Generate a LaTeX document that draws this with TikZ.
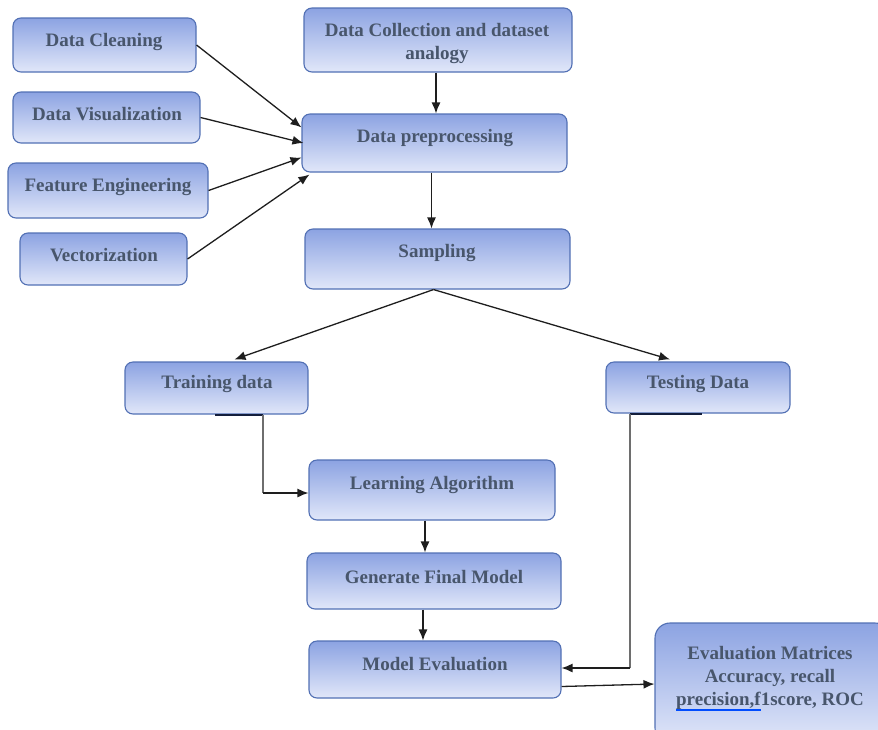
\documentclass[tikz,border=0pt]{standalone}
\usepackage{fontspec}
\setmainfont{Liberation Serif}
\usetikzlibrary{arrows.meta,calc}
\definecolor{boxtop}{RGB}{140,163,226}
\definecolor{boxbot}{RGB}{225,231,249}
\definecolor{boxline}{RGB}{82,112,180}
\definecolor{txtcol}{RGB}{72,86,108}
\definecolor{linecol}{RGB}{30,30,30}
\definecolor{graycol}{RGB}{110,110,110}
\definecolor{navy}{RGB}{20,30,60}
\tikzset{
  box/.style={draw=boxline, line width=1.1pt, rounded corners=8pt, top color=boxtop, bottom color=boxbot, inner sep=0pt},
  txt/.style={text=txtcol, font=\fontsize{19}{23}\selectfont\bfseries, align=center, inner sep=0pt, yshift=-2pt},
  conn/.style={draw=linecol, line width=1.3pt, -{Latex[length=11pt,width=9pt]}},
  gconn/.style={draw=graycol, line width=1.6pt},
  stub/.style={draw=navy, line width=2pt}
}
\newcommand\mkbox[5]{\node[box, minimum width={#4pt-#2pt}, minimum height={#5pt-#3pt}] (#1) at ({(#2+#4)/2},{(#3+#5)/2}) {};}
\begin{document}
\begin{tikzpicture}[x=1pt,y=-1pt]
\useasboundingbox (0,0) rectangle (878,729);
\clip (0,0) rectangle (878,729);
% boxes
\mkbox{dc}{13}{18}{196}{72}
\mkbox{dv}{13}{92}{200}{143}
\mkbox{fe}{8}{163}{208}{218}
\mkbox{vec}{20}{233}{187}{285}
\mkbox{col}{304}{8}{572}{72}
\mkbox{pp}{302}{114}{567}{172}
\mkbox{sa}{305}{229}{570}{289}
\mkbox{tr}{125}{362}{308}{414}
\mkbox{te}{606}{362}{790}{413}
\mkbox{la}{309}{460}{555}{520}
\mkbox{gf}{307}{553}{561}{609}
\mkbox{me}{309}{641}{561}{698}
\node[box, rounded corners=15pt, minimum width=235pt, minimum height=120pt] (ev) at (772.5,683) {};
% texts
\node[txt] (dct) at (104,40) {Data Cleaning};
\node[txt] (dvt) at (107,112) {Data Visualization};
\node[txt] (fet) at (108,185) {Feature Engineering};
\node[txt] (vect) at (104,253) {Vectorization};
\node[txt] (colt) at (437,41.5) {Data Collection and dataset\\analogy};
\node[txt] (ppt) at (435,136) {Data preprocessing};
\node[txt] (sat) at (437,251) {Sampling};
\node[txt] (trt) at (217,382) {Training data};
\node[txt] (tet) at (698,382) {Testing Data};
\node[txt] (lat) at (432,483) {Learning Algorithm};
\node[txt] (gft) at (434,575) {Generate Final Model};
\node[txt] (met) at (435,662) {Model Evaluation};
\node[txt] (evt) at (770,676) {Evaluation Matrices\\Accuracy, recall\\precision,f1score, ROC};
\draw[blue!70!cyan, line width=1.2pt] (676,710) -- (761,710);
% connectors into preprocessing
\draw[conn] (dc.east) -- ([yshift=-14pt]pp.north west);
\draw[conn] (dv.east) -- ([xshift=2pt]pp.west);
\draw[conn] (fe.east) -- ([yshift=15pt]pp.south west);
\draw[conn] (vec.east) -- ([xshift=8pt,yshift=-2pt]pp.south west);
\draw[conn] ([xshift=-2pt]col.south) -- ([xshift=-2pt]col.south |- pp.north);
\draw[conn] ([xshift=-3pt]pp.south) -- ([xshift=-6pt]sa.north);
% sampling split
\draw[conn] ([xshift=-4pt]sa.south) -- ([xshift=18pt,yshift=2pt]tr.north);
\draw[conn] ([xshift=-4pt]sa.south) -- ([xshift=-28pt,yshift=2pt]te.north);
% training -> learning
\coordinate (trout) at (263,415);
\coordinate (teout) at (630,414);
\draw[stub] (215,415) -- (trout);
\draw[stub] (teout) -- (702,414);
\draw[gconn] (trout) -- (trout |- 0,493);
\draw[conn] (263,493) -- (la.west |- 0,493);
% testing -> model evaluation
\draw[gconn] (teout) -- (630,668);
\draw[conn] (630,668) -- (me.east |- 0,668);
% chain
\draw[conn] ([xshift=-7pt]la.south) -- ([xshift=-7pt]la.south |- gf.north);
\draw[conn] ([xshift=-11pt]gf.south) -- ([xshift=-11pt]gf.south |- me.north);
\draw[conn] ([yshift=-17pt]me.east) -- ([yshift=-1pt]ev.west);
\end{tikzpicture}
\end{document}
